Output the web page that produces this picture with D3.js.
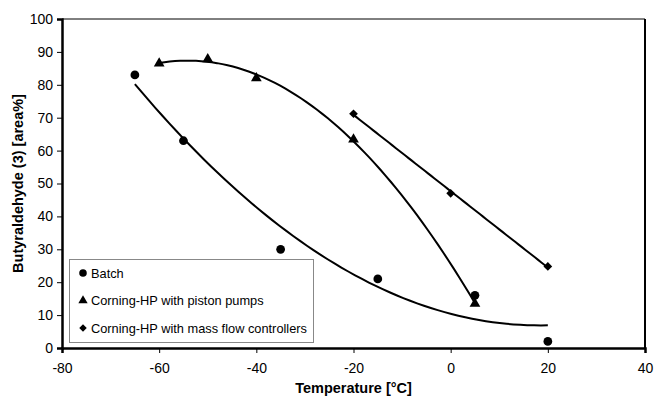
<!DOCTYPE html>
<html>
<head>
<meta charset="utf-8">
<script src="https://cdn.jsdelivr.net/npm/d3@7"></script>
<style>
  body { margin: 0; background: #fff; }
  svg { font-family: "Liberation Sans", Arial, sans-serif; }
</style>
</head>
<body>
<svg id="chart" width="654" height="398"></svg>
<script>
// data
const batchX = [-65, -55, -35, -15, 5, 20];
const batchY = [83, 63, 30, 21, 16, 2];
const pistonX = [-60, -50, -40, -20, 5];
const pistonY = [86.5, 87.8, 82, 63.4, 13.5];
const massX = [-20, 0, 20];
const massY = [71.2, 47, 24.8];
const xTicks = [-80, -60, -40, -20, 0, 20, 40];
const yTicks = [0, 10, 20, 30, 40, 50, 60, 70, 80, 90, 100];
const legendLabels = ["Batch", "Corning-HP with piston pumps", "Corning-HP with mass flow controllers"];

const svg = d3.select("#chart");
const margin = {left: 62, right: 9, top: 19, bottom: 50};
const width = 654 - margin.left - margin.right;
const height = 398 - margin.top - margin.bottom;
const g = svg.append("g").attr("transform", "translate(" + margin.left + "," + margin.top + ")");

const x = d3.scaleLinear().domain([-80, 40]).range([0, width]);
const y = d3.scaleLinear().domain([0, 100]).range([height, 0]);

// least squares polynomial fit (like excel trendline)
function polyFit(xs, ys, deg) {
  const n = deg + 1;
  const A = [];
  for (let i = 0; i < n; i++) {
    A.push([]);
    for (let j = 0; j < n; j++) A[i].push(d3.sum(xs, v => Math.pow(v, i + j)));
    A[i].push(d3.sum(xs, (v, k) => Math.pow(v, i) * ys[k]));
  }
  for (let c = 0; c < n; c++) {
    for (let r = c + 1; r < n; r++) {
      const f = A[r][c] / A[c][c];
      for (let k = c; k <= n; k++) A[r][k] -= f * A[c][k];
    }
  }
  const coef = new Array(n).fill(0);
  for (let r = n - 1; r >= 0; r--) {
    let s = A[r][n];
    for (let k = r + 1; k < n; k++) s -= A[r][k] * coef[k];
    coef[r] = s / A[r][r];
  }
  return t => d3.sum(coef, (c, i) => c * Math.pow(t, i));
}

// frame
g.append("line").attr("x1", 0).attr("x2", width).attr("y1", 0).attr("y2", 0)
  .attr("stroke", "#000").attr("stroke-width", 1);
g.append("line").attr("x1", width).attr("x2", width).attr("y1", 0).attr("y2", height)
  .attr("stroke", "#000").attr("stroke-width", 2);

// axes
const fmt = d => String(d);
const xAxis = g.append("g").attr("transform", "translate(0," + height + ")")
  .call(d3.axisBottom(x).tickValues(xTicks).tickFormat(fmt).tickSize(5).tickPadding(10));
const yAxis = g.append("g")
  .call(d3.axisLeft(y).tickValues(yTicks).tickFormat(fmt).tickSize(5).tickPadding(4));
[xAxis, yAxis].forEach(a => {
  a.select(".domain").attr("stroke-width", 2.5);
  a.selectAll("text").attr("font-size", 14).attr("fill", "#000")
    .attr("font-family", "'Liberation Sans', Arial, sans-serif");
});

svg.append("text").attr("x", margin.left + x(-20)).attr("y", 393)
  .attr("text-anchor", "middle").attr("font-weight", "bold").attr("font-size", 14.5)
  .text("Temperature [°C]");
svg.append("text").attr("transform", "translate(23," + (margin.top + height / 2) + ") rotate(-90)")
  .attr("text-anchor", "middle").attr("font-weight", "bold").attr("font-size", 14.5)
  .text("Butyraldehyde (3) [area%]");

// trend lines
const line = d3.line().x(d => x(d[0])).y(d => y(d[1]));
function trend(xs, ys, deg) {
  const f = polyFit(xs, ys, deg);
  const lo = d3.min(xs), hi = d3.max(xs);
  const pts = d3.range(0, 61).map(i => { const t = lo + (hi - lo) * i / 60; return [t, f(t)]; });
  g.append("path").attr("d", line(pts)).attr("fill", "none")
    .attr("stroke", "#000").attr("stroke-width", 2);
}
trend(batchX, batchY, 2);
trend(pistonX, pistonY, 2);
trend(massX, massY, 1);

// markers
const sym = [d3.symbolCircle, d3.symbolTriangle, d3.symbolSquare];
const sizes = [60, 50, 38];
function marks(xs, ys, k) {
  g.selectAll(null).data(xs).enter().append("path")
    .attr("d", d3.symbol().type(sym[k]).size(sizes[k]))
    .attr("transform", (d, i) => "translate(" + x(d) + "," + y(ys[i]) + ")" + (k === 2 ? " rotate(45)" : ""))
    .attr("fill", "#000");
}
marks(batchX, batchY, 0);
marks(pistonX, pistonY, 1);
marks(massX, massY, 2);

// legend
const leg = svg.append("g").attr("transform", "translate(69,259)");
leg.append("rect").attr("x", 0.5).attr("y", 0.5).attr("width", 244).attr("height", 83)
  .attr("fill", "#fff").attr("stroke", "#888").attr("stroke-width", 1);
legendLabels.forEach((lab, i) => {
  const yy = 14 + i * 27.5;
  leg.append("path").attr("d", d3.symbol().type(sym[i]).size(sizes[i] * 0.75))
    .attr("transform", "translate(14," + yy + ")" + (i === 2 ? " rotate(45)" : "")).attr("fill", "#000");
  leg.append("text").attr("x", 22).attr("y", yy + 4.5).attr("font-size", 12.8).text(lab);
});
</script>
</body>
</html>
